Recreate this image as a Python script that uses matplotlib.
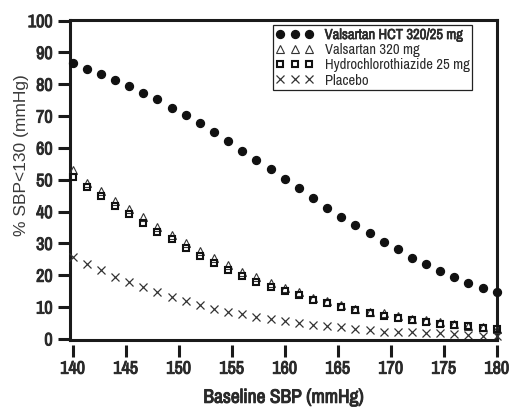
import matplotlib
matplotlib.use("Agg")
from matplotlib import pyplot as plt
from matplotlib import patheffects

# Narrow Arial-like font, with fallbacks
plt.rcParams['font.family'] = ['Archivo Narrow', 'Liberation Sans', 'DejaVu Sans']

# Baseline SBP values (x)
baseline_sbp = [140.0, 141.33, 142.67, 144.0, 145.33, 146.67, 148.0, 149.33, 150.67, 152.0,
                153.33, 154.67, 156.0, 157.33, 158.67, 160.0, 161.33, 162.67, 164.0, 165.33,
                166.67, 168.0, 169.33, 170.67, 172.0, 173.33, 174.67, 176.0, 177.33, 178.67, 180.0]

# % SBP<130 for each treatment
valsartan_hct = [86.6, 84.7, 83.2, 81.3, 79.4, 77.3, 75.3, 72.7, 70.3, 67.7,
                 64.9, 62.2, 59.1, 56.2, 53.3, 50.3, 47.3, 44.4, 41.2, 38.4,
                 35.7, 33.4, 30.5, 28.2, 25.5, 23.5, 21.4, 19.4, 17.7, 16.0, 14.7]
valsartan = [53.1, 49.1, 46.6, 43.4, 40.7, 38.2, 35.3, 32.7, 30.0, 27.7,
             25.4, 23.2, 21.1, 19.4, 17.7, 15.9, 14.7, 13.0, 12.0, 10.6,
             9.3, 8.6, 8.0, 7.3, 6.4, 5.8, 5.2, 4.7, 4.2, 3.8, 3.2]
hctz = [51.0, 47.6, 45.0, 41.9, 39.2, 36.3, 33.7, 31.3, 28.5, 26.1,
        24.0, 21.7, 19.8, 17.8, 16.2, 14.9, 13.8, 12.2, 11.4, 10.1,
        9.1, 8.2, 7.3, 6.6, 5.8, 5.2, 4.7, 4.3, 3.9, 3.5, 3.0]
placebo = [25.8, 23.5, 21.7, 19.6, 17.8, 16.4, 14.7, 13.3, 11.9, 10.7,
           9.5, 8.6, 7.7, 6.9, 6.3, 5.5, 5.1, 4.4, 3.9, 3.6,
           3.1, 2.7, 2.3, 2.3, 2.3, 2.0, 1.8, 1.6, 1.35, 1.0, 0.85]

labels = ['Valsartan HCT 320/25 mg', 'Valsartan 320 mg',
          'Hydrochlorothiazide 25 mg', 'Placebo']

xticks = [140, 145, 150, 155, 160, 165, 170, 175, 180]
yticks = [0, 10, 20, 30, 40, 50, 60, 70, 80, 90, 100]

text_color = '#2a2a2a'
# faux bold (the narrow font has no bold face here)
bold = [patheffects.withStroke(linewidth=0.7, foreground=text_color)]
semibold = [patheffects.withStroke(linewidth=0.45, foreground=text_color)]

fig = plt.figure(figsize=(5.2, 4.17), dpi=100)
ax = fig.add_axes([0.1346, 0.185, 0.8214, 0.767])

# Data series
ax.plot(baseline_sbp, valsartan_hct, linestyle='none', marker='o', ms=5.7,
        color='#111111', mec='#111111', label=labels[0], clip_on=False, zorder=5)
ax.plot(baseline_sbp, valsartan, linestyle='none', marker='^', ms=5.4,
        mfc='none', mec='#333333', mew=0.8, label=labels[1], clip_on=False, zorder=4)
ax.plot(baseline_sbp, hctz, linestyle='none', marker='s', ms=4.4,
        mfc='none', mec='#111111', mew=1.5, label=labels[2], clip_on=False, zorder=4)
ax.plot(baseline_sbp, placebo, linestyle='none', marker='x', ms=5.4,
        color='#333333', mew=0.9, label=labels[3], clip_on=False, zorder=3)

ax.set_xlim(139.75, 180.03)
ax.set_ylim(-0.3, 100.2)

# Frame
for side in ['left', 'top', 'right']:
    ax.spines[side].set_linewidth(2.2)
    ax.spines[side].set_color('#1a1a1a')
# bottom ticks sit detached below the frame
ax.spines['bottom'].set_position(('outward', 3.5))
ax.spines['bottom'].set_color('none')
ax.plot([0, 1], [0, 0], transform=ax.transAxes, color='#1a1a1a', lw=2.2,
        clip_on=False, solid_capstyle='projecting', zorder=6)

ax.set_xticks(xticks)
ax.set_yticks(yticks)
ax.tick_params(axis='both', direction='out', length=8.5, width=2.2,
               color='#1a1a1a', labelcolor=text_color, labelsize=13)
ax.tick_params(axis='x', pad=3)
ax.tick_params(axis='y', pad=4)
for lab in ax.get_xticklabels() + ax.get_yticklabels():
    lab.set_path_effects(bold)

ax.set_xlabel('Baseline SBP (mmHg)', fontsize=14, color=text_color,
              labelpad=8, path_effects=bold)
# y label is in a wider, regular Arial-like face
ax.set_ylabel('% SBP<130 (mmHg)', fontsize=12.5, color='#3a3a3a',
              family=['Liberation Sans', 'DejaVu Sans'])
ax.yaxis.set_label_coords(-0.095, 0.578)

leg = ax.legend(loc='upper left', bbox_to_anchor=(0.475, 0.984), borderaxespad=0,
                numpoints=3, fontsize=10.5, frameon=True,
                fancybox=False, edgecolor='#222222', framealpha=1,
                borderpad=0.2, handlelength=2.6, handletextpad=0.75,
                labelspacing=0.08)
leg.get_frame().set_linewidth(0.9)
for t in leg.get_texts():
    t.set_color(text_color)
leg.get_texts()[0].set_path_effects(semibold)

fig.savefig('out.png', dpi=100)
